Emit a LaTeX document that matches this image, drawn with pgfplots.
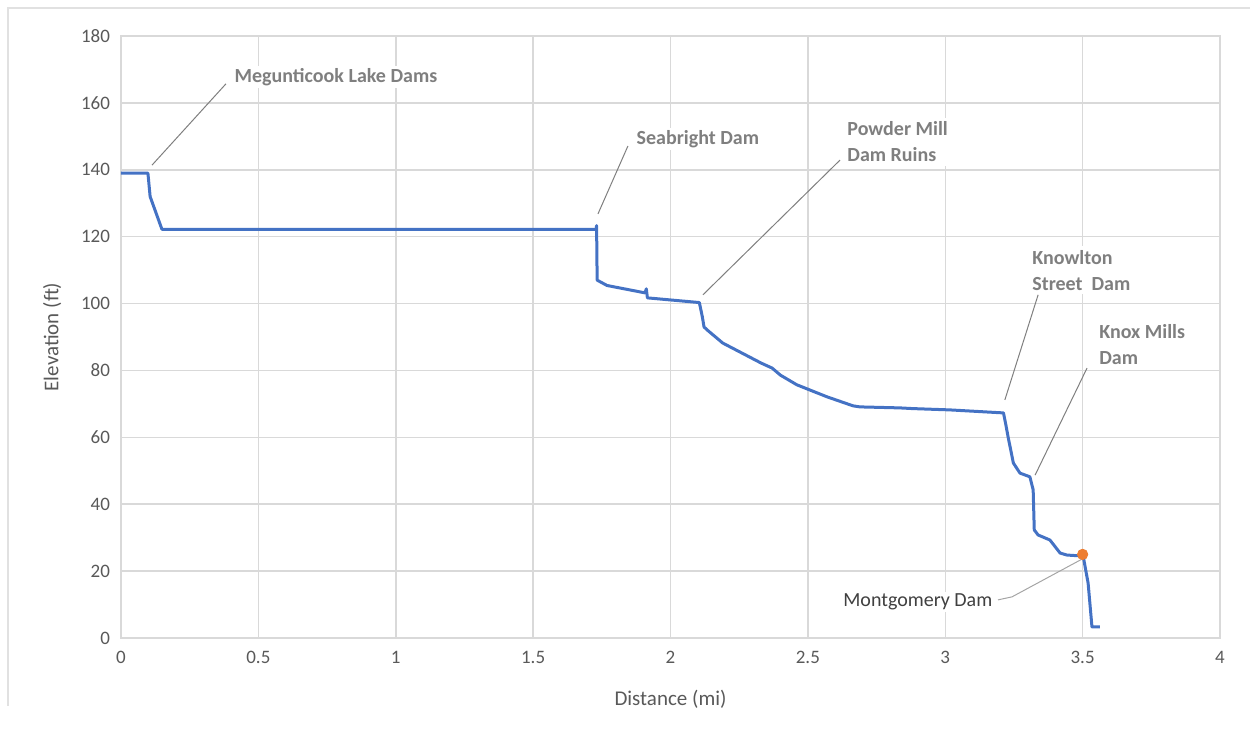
\documentclass[border=0pt]{standalone}
\usepackage{fontspec}
\setmainfont{Carlito}
\usepackage{pgfplots}
\pgfplotsset{compat=1.18}
\definecolor{exblue}{HTML}{4472C4}
\definecolor{exorange}{HTML}{ED7D31}
\definecolor{gridc}{HTML}{D9D9D9}
\definecolor{tickc}{HTML}{595959}
\definecolor{annc}{HTML}{7F7F7F}
\definecolor{montc}{HTML}{404040}
\begin{document}
\begin{tikzpicture}
\path[use as bounding box] (-60.5pt,-48pt) rectangle (564.5pt,319pt);
\draw[gridc!80, line width=0.6pt] (-56.5pt,-34pt) -- (-56.5pt,315pt) -- (570pt,315pt);
\begin{axis}[
  name=ax, at={(0,0)}, anchor=south west,
  scale only axis, width=549.5pt, height=301pt,
  xmin=0, xmax=4, ymin=0, ymax=180,
  xtick={0,0.5,...,4}, ytick={0,20,...,180},
  xticklabels={0,0.5,1,1.5,2,2.5,3,3.5,4},
  grid=major,
  major grid style={gridc, line width=0.75pt},
  axis line style={gridc, line width=0.75pt},
  tick style={draw=none},
  /pgf/number format/assume math mode=true,
  ticklabel style={font=\fontsize{9.5}{11}\selectfont, text=tickc},
  xticklabel style={yshift=-3pt},
  yticklabel style={xshift=-2pt},
  xlabel={Distance (mi)}, ylabel={Elevation (ft)},
  label style={font=\fontsize{10.5}{12}\selectfont, text=tickc},
  xlabel style={yshift=-6.5pt},
  ylabel style={yshift=3pt},
  clip=false,
]
\addplot[exblue, line width=1.5pt, line join=round] coordinates {
(0,139) (0.098,139) (0.106,132) (0.149,122.2) (1.729,122.2) (1.731,123.3)
(1.733,107) (1.769,105.4) (1.907,103.2) (1.912,104.4) (1.916,101.7)
(2.105,100.3) (2.116,96) (2.122,93) (2.135,92) (2.19,88.2) (2.33,82.2)
(2.37,80.7) (2.40,78.6) (2.46,75.7) (2.57,72.1) (2.665,69.4) (2.69,69.1)
(2.835,68.8) (2.88,68.6) (3.017,68.2) (3.212,67.3) (3.22,64) (3.229,60)
(3.248,52.3) (3.272,49.3) (3.308,48.2) (3.320,44.3) (3.324,32.3)
(3.338,30.8) (3.381,29.3) (3.418,25.4) (3.443,24.8) (3.502,24.5)
(3.52,16.4) (3.534,3.3) (3.563,3.3)
};
\addplot[only marks, mark=*, mark size=2.6pt, exorange] coordinates {(3.5,25)};
% leader lines
\draw[annc, line width=0.5pt] (axis cs:0.113,141.4) -- (axis cs:0.382,165.7);
\draw[annc, line width=0.5pt] (axis cs:1.736,126.8) -- (axis cs:1.845,147.1);
\draw[annc, line width=0.5pt] (axis cs:2.118,102.6) -- (axis cs:2.617,142.9);
\draw[annc, line width=0.5pt] (axis cs:3.217,71.2) -- (axis cs:3.338,102.6);
\draw[annc, line width=0.5pt] (axis cs:3.327,48.7) -- (axis cs:3.516,80.7);
\draw[annc!70, line width=0.5pt] (axis cs:3.498,23.6) -- (axis cs:3.243,12.3) -- (axis cs:3.192,11.4);
% labels
\node[anchor=west, font=\fontsize{10}{12}\selectfont\bfseries, text=annc, fill=white, inner sep=1pt] at (axis cs:0.405,167.8) {Megunticook Lake Dams};
\node[anchor=west, font=\fontsize{10}{12}\selectfont\bfseries, text=annc, fill=white, inner sep=1pt] at (axis cs:1.868,149.2) {Seabright Dam};
\node[anchor=west, align=left, font=\fontsize{10}{13}\selectfont\bfseries, text=annc, fill=white, inner sep=2pt] at (axis cs:2.628,148.3) {Powder Mill\\Dam Ruins};
\node[anchor=west, align=left, font=\fontsize{10}{13}\selectfont\bfseries, text=annc, fill=white, inner sep=2pt] at (axis cs:3.301,110.0) {Knowlton\\Street\ \ Dam};
\node[anchor=west, align=left, font=\fontsize{10}{13}\selectfont\bfseries, text=annc, fill=white, inner sep=2pt] at (axis cs:3.545,87.6) {Knox Mills\\Dam};
\node[anchor=east, font=\fontsize{10}{12}\selectfont, text=montc, fill=white, inner sep=1pt] at (axis cs:3.18,10.8) {Montgomery Dam};
\end{axis}
\end{tikzpicture}
\end{document}
